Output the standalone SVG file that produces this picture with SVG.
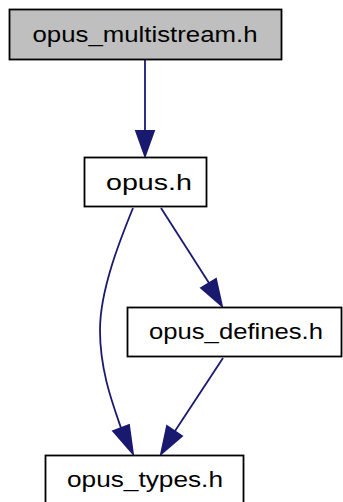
<svg xmlns="http://www.w3.org/2000/svg" width="343" height="502" viewBox="0 0 343 502">
<style>
.box{fill:#ffffff;stroke:#000000;stroke-width:1.8}
.cur{fill:#bfbfbf}
.lbl{font-family:"Liberation Sans",Arial,sans-serif;font-size:22.5px;fill:#000000;text-anchor:middle}
.edge{fill:none;stroke:#191970;stroke-width:1.8}
.head{fill:#191970;stroke:#191970;stroke-width:1.8}
</style>
<rect width="343" height="502" fill="#ffffff"/>
<g id="connectors">
<path class="edge" d="M145,60 L145,131"/>
<polygon class="head" points="136,131 154,131 145,156"/>
<path class="edge" d="M161,208 L209,283"/>
<polygon class="head" points="201,288 216,279 222,306"/>
<path class="edge" d="M133,208 C120,240 100,290 100,330 C100,370 112,402 121,428"/>
<polygon class="head" points="113,431 129,425 133,454"/>
<path class="edge" d="M223,358 L175,431"/>
<polygon class="head" points="167,426 182,436 161,454"/>
</g>
<g id="node-opus_multistream">
<rect class="box cur" x="9.5" y="9.5" width="272" height="50"/>
<text class="lbl" x="145" y="42" textLength="225" lengthAdjust="spacingAndGlyphs">opus_multistream.h</text>
</g>
<g id="node-opus">
<rect class="box" x="84.5" y="157.5" width="122" height="49"/>
<text class="lbl" x="149" y="190" textLength="86" lengthAdjust="spacingAndGlyphs">opus.h</text>
</g>
<g id="node-opus_defines">
<rect class="box" x="127.5" y="307.5" width="214" height="49"/>
<text class="lbl" x="236" y="339" textLength="174" lengthAdjust="spacingAndGlyphs">opus_defines.h</text>
</g>
<g id="node-opus_types">
<rect class="box" x="45.5" y="455.5" width="198" height="50"/>
<text class="lbl" x="145" y="487" textLength="156" lengthAdjust="spacingAndGlyphs">opus_types.h</text>
</g>
</svg>
